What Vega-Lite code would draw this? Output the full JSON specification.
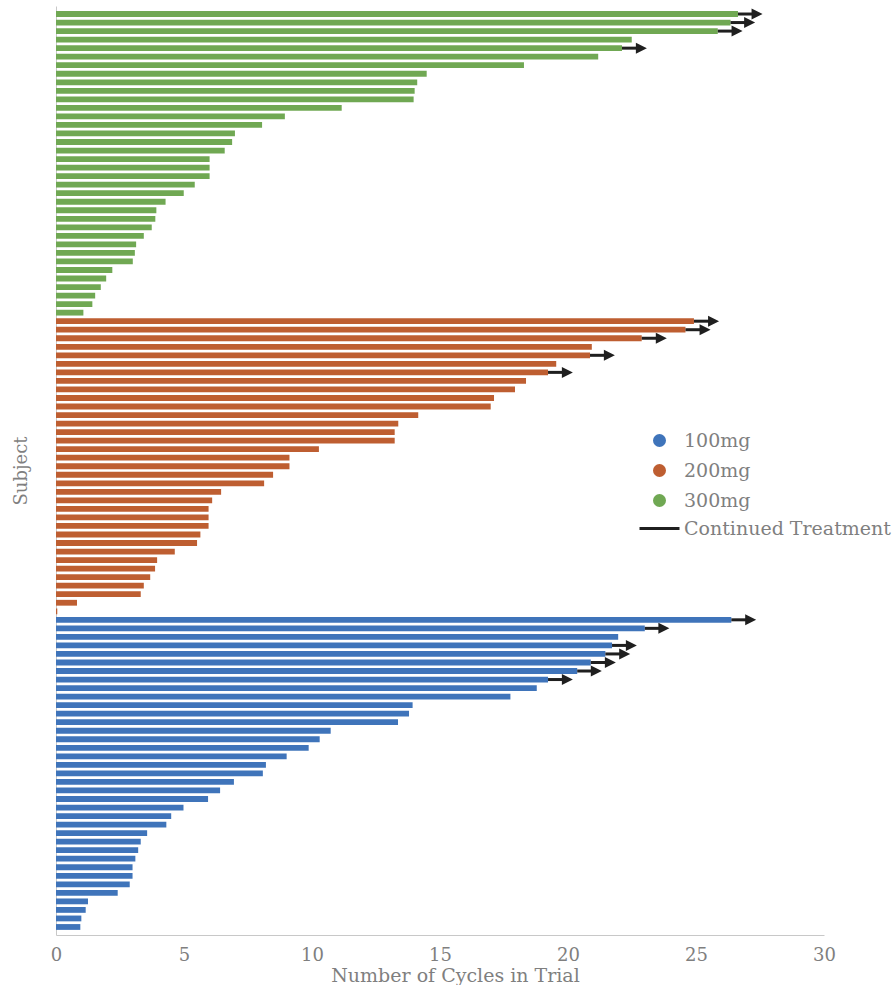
{
  "$schema": "https://vega.github.io/schema/vega-lite/v6.json",
  "width": 768,
  "height": 929,
  "autosize": {"type": "none"},
  "padding": {"left": 56, "top": 6, "right": 72, "bottom": 50},
  "background": "white",
  "config": {
    "view": {"stroke": null},
    "font": "DejaVu Serif",
    "axis": {
      "labelFont": "DejaVu Serif",
      "titleFont": "DejaVu Serif",
      "labelColor": "#7f7f7f",
      "titleColor": "#7f7f7f",
      "labelFontSize": 18,
      "titleFontSize": 18,
      "titleFontWeight": "normal",
      "domainColor": "#c8c8c8",
      "grid": false,
      "ticks": false
    }
  },
  "data": {
    "values": [
      {"id": "S001", "dose": "300mg", "cycles": 26.64, "tip": 27.6},
      {"id": "S002", "dose": "300mg", "cycles": 26.35, "tip": 27.31},
      {"id": "S003", "dose": "300mg", "cycles": 25.85, "tip": 26.82},
      {"id": "S004", "dose": "300mg", "cycles": 22.49},
      {"id": "S005", "dose": "300mg", "cycles": 22.11, "tip": 23.08},
      {"id": "S006", "dose": "300mg", "cycles": 21.18},
      {"id": "S007", "dose": "300mg", "cycles": 18.28},
      {"id": "S008", "dose": "300mg", "cycles": 14.48},
      {"id": "S009", "dose": "300mg", "cycles": 14.11},
      {"id": "S010", "dose": "300mg", "cycles": 14.01},
      {"id": "S011", "dose": "300mg", "cycles": 13.97},
      {"id": "S012", "dose": "300mg", "cycles": 11.16},
      {"id": "S013", "dose": "300mg", "cycles": 8.94},
      {"id": "S014", "dose": "300mg", "cycles": 8.05},
      {"id": "S015", "dose": "300mg", "cycles": 6.99},
      {"id": "S016", "dose": "300mg", "cycles": 6.88},
      {"id": "S017", "dose": "300mg", "cycles": 6.59},
      {"id": "S018", "dose": "300mg", "cycles": 6.0},
      {"id": "S019", "dose": "300mg", "cycles": 6.0},
      {"id": "S020", "dose": "300mg", "cycles": 6.0},
      {"id": "S021", "dose": "300mg", "cycles": 5.42},
      {"id": "S022", "dose": "300mg", "cycles": 4.99},
      {"id": "S023", "dose": "300mg", "cycles": 4.28},
      {"id": "S024", "dose": "300mg", "cycles": 3.92},
      {"id": "S025", "dose": "300mg", "cycles": 3.88},
      {"id": "S026", "dose": "300mg", "cycles": 3.74},
      {"id": "S027", "dose": "300mg", "cycles": 3.43},
      {"id": "S028", "dose": "300mg", "cycles": 3.13},
      {"id": "S029", "dose": "300mg", "cycles": 3.08},
      {"id": "S030", "dose": "300mg", "cycles": 3.0},
      {"id": "S031", "dose": "300mg", "cycles": 2.2},
      {"id": "S032", "dose": "300mg", "cycles": 1.96},
      {"id": "S033", "dose": "300mg", "cycles": 1.75},
      {"id": "S034", "dose": "300mg", "cycles": 1.53},
      {"id": "S035", "dose": "300mg", "cycles": 1.42},
      {"id": "S036", "dose": "300mg", "cycles": 1.07},
      {"id": "S037", "dose": "200mg", "cycles": 24.92, "tip": 25.9},
      {"id": "S038", "dose": "200mg", "cycles": 24.59, "tip": 25.57},
      {"id": "S039", "dose": "200mg", "cycles": 22.88, "tip": 23.86},
      {"id": "S040", "dose": "200mg", "cycles": 20.93},
      {"id": "S041", "dose": "200mg", "cycles": 20.86, "tip": 21.83},
      {"id": "S042", "dose": "200mg", "cycles": 19.54},
      {"id": "S043", "dose": "200mg", "cycles": 19.22, "tip": 20.19},
      {"id": "S044", "dose": "200mg", "cycles": 18.36},
      {"id": "S045", "dose": "200mg", "cycles": 17.93},
      {"id": "S046", "dose": "200mg", "cycles": 17.11},
      {"id": "S047", "dose": "200mg", "cycles": 16.98},
      {"id": "S048", "dose": "200mg", "cycles": 14.15},
      {"id": "S049", "dose": "200mg", "cycles": 13.37},
      {"id": "S050", "dose": "200mg", "cycles": 13.23},
      {"id": "S051", "dose": "200mg", "cycles": 13.23},
      {"id": "S052", "dose": "200mg", "cycles": 10.27},
      {"id": "S053", "dose": "200mg", "cycles": 9.12},
      {"id": "S054", "dose": "200mg", "cycles": 9.12},
      {"id": "S055", "dose": "200mg", "cycles": 8.48},
      {"id": "S056", "dose": "200mg", "cycles": 8.13},
      {"id": "S057", "dose": "200mg", "cycles": 6.45},
      {"id": "S058", "dose": "200mg", "cycles": 6.1},
      {"id": "S059", "dose": "200mg", "cycles": 5.96},
      {"id": "S060", "dose": "200mg", "cycles": 5.96},
      {"id": "S061", "dose": "200mg", "cycles": 5.96},
      {"id": "S062", "dose": "200mg", "cycles": 5.64},
      {"id": "S063", "dose": "200mg", "cycles": 5.51},
      {"id": "S064", "dose": "200mg", "cycles": 4.64},
      {"id": "S065", "dose": "200mg", "cycles": 3.95},
      {"id": "S066", "dose": "200mg", "cycles": 3.87},
      {"id": "S067", "dose": "200mg", "cycles": 3.68},
      {"id": "S068", "dose": "200mg", "cycles": 3.43},
      {"id": "S069", "dose": "200mg", "cycles": 3.31},
      {"id": "S070", "dose": "200mg", "cycles": 0.82},
      {"id": "S071", "dose": "200mg", "cycles": 0.05},
      {"id": "S072", "dose": "100mg", "cycles": 26.38, "tip": 27.35},
      {"id": "S073", "dose": "100mg", "cycles": 23.0, "tip": 23.96},
      {"id": "S074", "dose": "100mg", "cycles": 21.96},
      {"id": "S075", "dose": "100mg", "cycles": 21.72, "tip": 22.69},
      {"id": "S076", "dose": "100mg", "cycles": 21.46, "tip": 22.43},
      {"id": "S077", "dose": "100mg", "cycles": 20.89, "tip": 21.87},
      {"id": "S078", "dose": "100mg", "cycles": 20.36, "tip": 21.32},
      {"id": "S079", "dose": "100mg", "cycles": 19.22, "tip": 20.19},
      {"id": "S080", "dose": "100mg", "cycles": 18.78},
      {"id": "S081", "dose": "100mg", "cycles": 17.75},
      {"id": "S082", "dose": "100mg", "cycles": 13.93},
      {"id": "S083", "dose": "100mg", "cycles": 13.79},
      {"id": "S084", "dose": "100mg", "cycles": 13.36},
      {"id": "S085", "dose": "100mg", "cycles": 10.73},
      {"id": "S086", "dose": "100mg", "cycles": 10.3},
      {"id": "S087", "dose": "100mg", "cycles": 9.87},
      {"id": "S088", "dose": "100mg", "cycles": 9.01},
      {"id": "S089", "dose": "100mg", "cycles": 8.2},
      {"id": "S090", "dose": "100mg", "cycles": 8.08},
      {"id": "S091", "dose": "100mg", "cycles": 6.95},
      {"id": "S092", "dose": "100mg", "cycles": 6.41},
      {"id": "S093", "dose": "100mg", "cycles": 5.94},
      {"id": "S094", "dose": "100mg", "cycles": 4.98},
      {"id": "S095", "dose": "100mg", "cycles": 4.5},
      {"id": "S096", "dose": "100mg", "cycles": 4.31},
      {"id": "S097", "dose": "100mg", "cycles": 3.56},
      {"id": "S098", "dose": "100mg", "cycles": 3.31},
      {"id": "S099", "dose": "100mg", "cycles": 3.21},
      {"id": "S100", "dose": "100mg", "cycles": 3.1},
      {"id": "S101", "dose": "100mg", "cycles": 2.99},
      {"id": "S102", "dose": "100mg", "cycles": 2.99},
      {"id": "S103", "dose": "100mg", "cycles": 2.88},
      {"id": "S104", "dose": "100mg", "cycles": 2.41},
      {"id": "S105", "dose": "100mg", "cycles": 1.25},
      {"id": "S106", "dose": "100mg", "cycles": 1.16},
      {"id": "S107", "dose": "100mg", "cycles": 0.99},
      {"id": "S108", "dose": "100mg", "cycles": 0.95}
    ]
  },
  "layer": [
    {
      "mark": {"type": "bar"},
      "encoding": {
        "y": {
          "field": "id",
          "type": "ordinal",
          "sort": null,
          "scale": {"paddingInner": 0.32, "paddingOuter": 0.6},
          "axis": {"title": "Subject", "labels": false, "ticks": false, "titlePadding": 26}
        },
        "x": {
          "field": "cycles",
          "type": "quantitative",
          "scale": {"domain": [0, 30], "nice": false},
          "axis": {
            "title": "Number of Cycles in Trial",
            "values": [0, 5, 10, 15, 20, 25, 30],
            "labelFlush": false,
            "labelPadding": 11,
            "titlePadding": 2,
            "titleFontSize": 19,
            "titleX": 399
          }
        },
        "color": {
          "field": "dose",
          "type": "nominal",
          "scale": {
            "domain": ["100mg", "200mg", "300mg", "Continued Treatment"],
            "range": ["#3F74BA", "#BE5E31", "#70A853", "#1f1f1f"]
          },
          "legend": {
            "title": null,
            "orient": "none",
            "legendX": 594,
            "legendY": 425,
            "padding": 0,
            "labelFont": "DejaVu Serif",
            "labelFontSize": 19,
            "labelColor": "#7f7f7f",
            "labelLimit": 400,
            "symbolSize": 100,
            "rowPadding": 7,
            "labelOffset": 15,
            "encode": {
              "symbols": {
                "update": {
                  "shape": {"signal": "datum.value === 'Continued Treatment' ? 'stroke' : 'circle'"},
                  "size": {"signal": "datum.value === 'Continued Treatment' ? 1600 : 100"},
                  "stroke": {"signal": "datum.value === 'Continued Treatment' ? '#1f1f1f' : 'transparent'"},
                  "strokeWidth": {"value": 3}
                }
              }
            }
          }
        }
      }
    },
    {
      "transform": [{"filter": "isValid(datum.tip)"}],
      "mark": {"type": "rule", "strokeWidth": 3, "strokeCap": "butt", "x2Offset": -5},
      "encoding": {
        "y": {"field": "id", "type": "ordinal", "sort": null},
        "x": {"field": "cycles", "type": "quantitative"},
        "x2": {"field": "tip"},
        "color": {"datum": "Continued Treatment"}
      }
    },
    {
      "transform": [{"filter": "isValid(datum.tip)"}],
      "mark": {"type": "point", "shape": "M-2,-1L0,0L-2,1Z", "filled": true, "size": 121, "opacity": 1},
      "encoding": {
        "y": {"field": "id", "type": "ordinal", "sort": null},
        "x": {"field": "tip", "type": "quantitative"},
        "color": {"value": "#1f1f1f"}
      }
    }
  ]
}
